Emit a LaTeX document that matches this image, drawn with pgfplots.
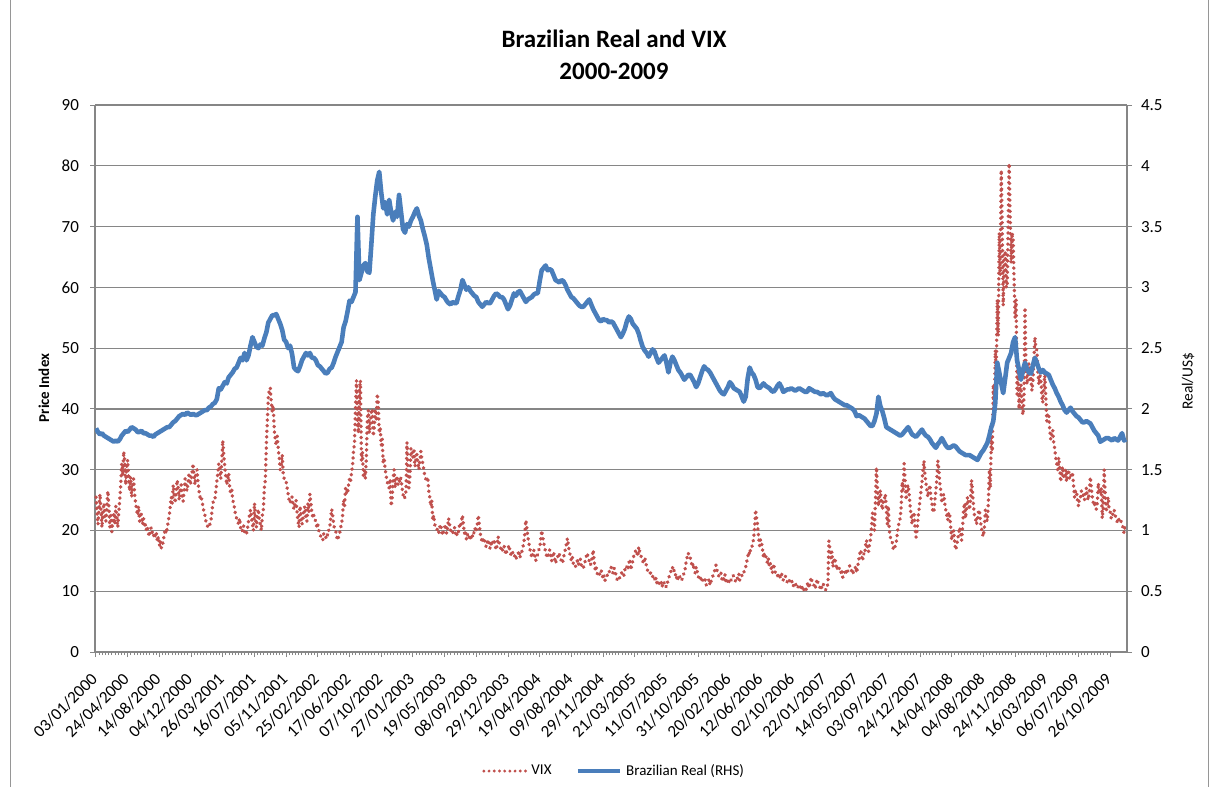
\documentclass[border=0pt]{standalone}
\usepackage{fontspec}
\setmainfont{Carlito}
\usepackage{pgfplots}
\usepackage{pgfplotstable}
\pgfplotsset{compat=1.18}
\definecolor{vixred}{RGB}{192,80,77}
\definecolor{brlblue}{RGB}{74,126,187}
\definecolor{gridgray}{RGB}{134,134,134}
\definecolor{axgray}{RGB}{134,134,134}
\definecolor{framegray}{RGB}{150,150,150}

% VIX, two readings per week
\pgfplotstableread[row sep=\\]{v\\
25.5\\23\\21\\23.5\\26\\23.5\\20.5\\23\\24.5\\22\\21.5\\24\\26.5\\24\\20.5\\22.5\\19.8\\21.5\\23\\21\\
24\\22\\20.5\\23\\25\\27.5\\31\\29\\33\\31.5\\27.5\\30.5\\31.6\\28.5\\26.5\\28.8\\25.5\\27\\28.5\\26\\
24.5\\23.4\\22.5\\24\\21.5\\23\\22.5\\21\\22\\20.5\\21\\20\\20.5\\19.5\\19\\20.2\\20.5\\19.5\\19\\19.6\\
18.9\\19.5\\18.2\\19\\17.5\\18.3\\17.1\\17.6\\18.2\\19.5\\20.2\\19.5\\20.5\\21.5\\22.5\\24\\25.5\\24.5\\27.5\\26\\
24.5\\26.5\\28.3\\27\\25\\26.5\\27.5\\25.5\\24.8\\26.5\\28.5\\27\\26.5\\28\\29.5\\27.5\\28\\29.5\\31\\29\\
27.5\\29.5\\30\\28\\26.5\\25.5\\25.8\\24.8\\24\\23\\22.5\\21.5\\21\\20.5\\20.5\\21\\21.5\\23\\24.5\\25\\
25\\26.5\\28\\29.5\\31\\30\\28.5\\31.5\\34.8\\32.5\\30.5\\29\\27.5\\28.5\\29.4\\27\\26\\27\\25\\24.5\\
23.5\\22.5\\22\\21.5\\21\\22\\20.5\\19.8\\20\\20.8\\19.8\\19.3\\19.5\\20.3\\21.5\\22.5\\23.4\\22\\21\\20\\
24.5\\22\\20.5\\22.5\\23.5\\21.5\\21\\20\\22.5\\23.5\\27\\28.3\\34\\38\\42\\43.1\\43.5\\41\\39.5\\40.5\\
36.5\\35\\34\\35.5\\33.5\\32\\30\\31\\32.5\\29.5\\28.5\\28\\28\\27\\26\\25\\24.5\\25.5\\25.5\\24\\
23.5\\24.5\\25\\23\\21.5\\20.5\\24\\22.5\\21\\22\\23.5\\24\\22\\21.5\\24.5\\23\\26\\24.5\\23\\22\\
22.5\\21.8\\21.5\\20.5\\21\\20\\19.6\\19\\18.5\\18.4\\19.5\\19\\18.8\\19.5\\19.2\\20\\20.5\\22\\23.5\\22.5\\
21\\20.2\\20\\19\\18.4\\19\\19.5\\20.5\\21\\22.5\\25\\24\\27\\26\\26\\27.5\\28.5\\28\\29.5\\30.5\\
33\\34.4\\40\\44.7\\38\\36\\43\\44.7\\31.5\\33\\29\\30\\28.5\\32\\38.5\\39.8\\36\\37.5\\39.5\\40\\
35.5\\37\\40\\38\\42.5\\41\\36\\37\\34\\35\\31\\32\\30\\29\\28\\27.5\\27\\28.5\\24\\25\\
28.5\\30\\27\\28\\29\\27.5\\27.5\\28.8\\28.5\\27\\26\\25.2\\25.5\\26.5\\34.5\\30\\27\\29\\33.5\\32\\
32\\33.5\\30.5\\31.5\\32.5\\31\\30\\31.5\\33\\31.8\\31\\30\\29\\28.5\\28\\28.8\\26.5\\25.5\\24\\25\\
21.7\\22.5\\21\\20.5\\20.5\\19.8\\19.5\\20.5\\21\\20\\19.2\\19.8\\20.5\\21\\19.5\\20.5\\22\\21\\20\\19.5\\
19.5\\20.2\\20.5\\19.5\\19\\20\\19.8\\20.8\\20.5\\21.5\\22.5\\21\\19.5\\20\\18.5\\19.2\\19.5\\18.8\\18.4\\19.3\\
19\\19.8\\19.5\\20.5\\20\\21\\22.5\\21\\19.5\\18.7\\18\\18.8\\18.5\\17.8\\17.3\\18\\18.5\\17.6\\17\\17.8\\
17.5\\18.3\\18.5\\17.5\\16.8\\17.5\\19\\18\\17.5\\16.8\\16.5\\17.2\\17.5\\16.6\\16\\16.8\\17\\17.6\\16.5\\16\\
15.8\\16.5\\16.3\\15.6\\15.2\\15.9\\16\\16.7\\15.5\\16.2\\16.5\\17.2\\18\\19.5\\21.7\\20.5\\19\\18\\17\\16.3\\
15.5\\16.2\\16.8\\16\\15\\15.8\\16\\16.8\\17\\18.5\\20\\19\\18\\17.2\\16.5\\15.8\\15.5\\16.2\\16.8\\16\\
15\\15.7\\16.5\\15.5\\14.6\\15.2\\15.5\\16.3\\16\\15.3\\15\\14.6\\15.5\\16.2\\17\\17.8\\18.7\\17.5\\16.5\\15.8\\
15\\15.6\\14.5\\14\\14\\14.6\\15\\14.3\\14.8\\15.3\\14.2\\13.8\\13.8\\14.4\\15\\15.7\\16.3\\15.5\\15\\14.3\\
14.6\\15.5\\16.8\\15\\13.5\\14\\13\\12.5\\12.5\\13.2\\13.5\\12.8\\12\\12.6\\11.8\\12.3\\12.5\\13.1\\13\\13.7\\
14\\13.4\\13\\13.8\\13.5\\12.7\\12\\11.7\\11.8\\12.4\\12.5\\13.2\\13\\12.6\\13.5\\14.2\\14\\13.5\\14.6\\15.3\\
13.5\\14.3\\15\\15.8\\16\\16.8\\16.5\\15.7\\17.3\\16.5\\16\\15.3\\15\\14.5\\15.6\\14.8\\14\\13.4\\13.5\\13\\
13\\12.4\\12.5\\11.8\\12\\12.5\\11.3\\11.8\\11.5\\11\\11\\11.6\\10.7\\11.2\\11.5\\10.9\\10.7\\11.4\\12\\12.6\\
13\\13.6\\14\\13.2\\13.5\\12.8\\12\\12.6\\11.8\\12.2\\12.5\\11.9\\12\\12.7\\13\\13.8\\15\\15.7\\16.3\\15.5\\
15.5\\14.8\\14\\14.6\\13.5\\13\\14\\13.3\\12.5\\12\\11.8\\12.4\\12\\11.6\\11.5\\11.9\\11\\11.4\\11.5\\12\\
11\\11.6\\12\\12.6\\13\\13.6\\14.3\\13.5\\13\\12.4\\12.5\\13\\12\\11.6\\12.3\\12.8\\11.5\\11.9\\11.3\\11.7\\
11.3\\11.8\\12\\12.6\\12.5\\12\\11.5\\11.9\\12.3\\12.9\\11.8\\12.2\\12.5\\13.1\\13\\13.7\\14\\14.8\\15.6\\16.5\\
16\\17\\17\\18\\18.5\\20.5\\23.4\\22\\21\\19\\17.5\\18.5\\18\\16.8\\15.5\\16.3\\16\\15.2\\14.6\\15.3\\
14\\14.6\\13.5\\13\\14.5\\13.8\\13\\12.5\\12.5\\13\\12\\12.5\\13\\12.4\\11.8\\12.3\\12.5\\11.9\\11.5\\12\\
11.8\\11.3\\11.3\\11.7\\11\\10.6\\10.8\\11.3\\11.2\\10.7\\10.5\\10.9\\10.2\\10.6\\10\\10.4\\10.7\\10.3\\11\\11.5\\
10.5\\11.2\\12.3\\11.6\\11.5\\10.9\\10.4\\11\\12\\11.4\\11\\10.6\\10.2\\10.8\\11.3\\10.9\\10.5\\10.2\\10.7\\11.2\\
18.3\\17\\15.5\\16.5\\14\\14.8\\15.5\\14.5\\13.5\\14.2\\14\\13.4\\13\\13.6\\12.3\\12.9\\13\\13.6\\12.8\\13.3\\
13.5\\14.2\\14\\13.3\\12.8\\13.4\\13.5\\14.1\\13\\14\\15\\16\\16.8\\15.8\\15\\16.2\\16\\17.5\\18.4\\17.2\\
16.5\\17.8\\18.5\\20.5\\22.9\\21.5\\20\\25\\30.4\\27\\24\\25.5\\26.6\\24.5\\23.4\\25\\25\\26\\23.5\\21\\
24\\20\\19\\18.2\\18\\17\\16.8\\17.5\\18\\19.5\\20.5\\21.5\\22\\24\\28\\26.6\\31\\28\\25\\27\\
27.5\\26\\24\\22.5\\21\\22.5\\23\\20.5\\18.9\\20\\22\\23.5\\25\\26.5\\28\\30\\31.5\\29\\27.8\\26.5\\
25.5\\26.8\\27.5\\25.5\\24.5\\23\\23\\25\\26.6\\28.5\\31.5\\30\\27.8\\26.5\\24.5\\25.5\\26\\24.5\\23.4\\22.5\\
21.7\\23\\22.5\\20.5\\18.4\\19.5\\20\\18\\16.8\\17.5\\18.5\\19.5\\20.5\\19.5\\18.4\\20.5\\23.4\\24.5\\22\\23.8\\
25.5\\24.2\\23.4\\25\\28.3\\26.5\\24\\22.5\\22\\21\\21.7\\23\\23.4\\21.5\\20.5\\19.5\\19\\20.5\\23.4\\22\\
21.5\\24.5\\30\\27\\35.4\\33\\44\\40\\49.7\\46\\58\\52\\69\\62\\79.3\\70\\57\\64\\66\\60\\
60\\70\\80.4\\72\\64\\69\\68\\61\\55\\58\\42\\46\\40\\44\\44\\40\\39\\42\\56.7\\47\\
44\\46\\47.5\\44.5\\45\\43\\44.5\\48\\51.8\\50\\49.7\\46\\44\\45.5\\45\\42\\41\\43.5\\46\\42\\
38\\39.3\\39\\36.5\\35\\36.5\\36.5\\34.4\\33.5\\32\\31\\30\\32\\30.5\\28\\29.5\\30.5\\28.5\\29\\30\\
28\\29.5\\30\\28.5\\28.5\\29.5\\29.5\\27.5\\25.5\\26.6\\26.5\\25\\24\\25.5\\25.5\\26.5\\26.5\\25.5\\25\\26\\
27\\25.5\\25\\26.5\\28.8\\27\\25.5\\24.5\\24\\24.8\\23.5\\24.5\\27.8\\26.5\\26\\27\\22\\23.5\\30\\26\\
23\\24.5\\25.5\\23.5\\23\\22\\22\\23\\23.4\\22.5\\22\\21.5\\21.2\\22\\22\\21.5\\21\\20.5\\19.6\\20.5\\21\\
}\vix

% Brazilian Real per US$, weekly
\pgfplotstableread[row sep=\\]{r\\
1.84\\1.81\\1.79\\1.80\\1.78\\1.77\\1.76\\1.75\\1.74\\1.73\\
1.74\\1.73\\1.75\\1.78\\1.80\\1.82\\1.81\\1.83\\1.85\\1.84\\
1.83\\1.81\\1.81\\1.82\\1.80\\1.80\\1.79\\1.78\\1.78\\1.77\\
1.79\\1.80\\1.81\\1.82\\1.83\\1.84\\1.85\\1.85\\1.87\\1.89\\
1.90\\1.92\\1.94\\1.95\\1.96\\1.95\\1.97\\1.96\\1.95\\1.96\\
1.95\\1.95\\1.96\\1.97\\1.98\\1.99\\1.99\\2.01\\2.02\\2.04\\
2.05\\2.08\\2.17\\2.16\\2.19\\2.22\\2.21\\2.26\\2.28\\2.30\\
2.33\\2.34\\2.38\\2.42\\2.40\\2.46\\2.40\\2.44\\2.52\\2.59\\
2.55\\2.51\\2.50\\2.53\\2.52\\2.58\\2.63\\2.71\\2.74\\2.77\\
2.77\\2.78\\2.74\\2.70\\2.65\\2.57\\2.55\\2.50\\2.52\\2.45\\
2.34\\2.32\\2.31\\2.35\\2.40\\2.43\\2.46\\2.44\\2.46\\2.42\\
2.42\\2.40\\2.36\\2.35\\2.33\\2.31\\2.29\\2.30\\2.33\\2.34\\
2.38\\2.43\\2.47\\2.51\\2.55\\2.67\\2.72\\2.80\\2.89\\2.88\\
2.92\\2.96\\3.58\\3.06\\3.12\\3.18\\3.20\\3.13\\3.12\\3.35\\
3.60\\3.75\\3.88\\3.95\\3.78\\3.65\\3.70\\3.60\\3.72\\3.62\\
3.55\\3.62\\3.58\\3.76\\3.62\\3.48\\3.45\\3.52\\3.50\\3.55\\
3.58\\3.62\\3.65\\3.59\\3.55\\3.48\\3.42\\3.35\\3.24\\3.15\\
3.06\\2.98\\2.90\\2.97\\2.95\\2.93\\2.92\\2.89\\2.87\\2.86\\
2.88\\2.87\\2.87\\2.93\\2.98\\3.06\\3.02\\2.98\\3.00\\2.97\\
2.95\\2.93\\2.92\\2.88\\2.86\\2.84\\2.86\\2.88\\2.87\\2.87\\
2.90\\2.93\\2.95\\2.94\\2.92\\2.92\\2.90\\2.86\\2.82\\2.85\\
2.90\\2.95\\2.93\\2.96\\2.97\\2.94\\2.91\\2.88\\2.90\\2.91\\
2.92\\2.94\\2.95\\2.95\\3.05\\3.14\\3.16\\3.18\\3.14\\3.15\\
3.14\\3.10\\3.06\\3.05\\3.04\\3.06\\3.05\\3.02\\2.98\\2.95\\
2.92\\2.91\\2.89\\2.87\\2.85\\2.84\\2.84\\2.86\\2.88\\2.90\\
2.86\\2.82\\2.79\\2.76\\2.73\\2.72\\2.74\\2.73\\2.73\\2.71\\
2.72\\2.71\\2.68\\2.65\\2.62\\2.59\\2.62\\2.66\\2.72\\2.76\\
2.74\\2.70\\2.68\\2.66\\2.62\\2.56\\2.51\\2.48\\2.46\\2.43\\
2.46\\2.49\\2.47\\2.42\\2.38\\2.40\\2.42\\2.44\\2.38\\2.30\\
2.38\\2.43\\2.40\\2.36\\2.32\\2.30\\2.27\\2.24\\2.26\\2.28\\
2.28\\2.25\\2.22\\2.18\\2.21\\2.26\\2.31\\2.35\\2.33\\2.32\\
2.30\\2.27\\2.24\\2.21\\2.18\\2.15\\2.13\\2.12\\2.15\\2.18\\
2.22\\2.20\\2.17\\2.16\\2.15\\2.14\\2.10\\2.06\\2.10\\2.25\\
2.34\\2.30\\2.28\\2.24\\2.18\\2.17\\2.19\\2.21\\2.19\\2.18\\
2.17\\2.15\\2.14\\2.16\\2.19\\2.21\\2.18\\2.14\\2.15\\2.16\\
2.16\\2.17\\2.16\\2.15\\2.16\\2.17\\2.16\\2.15\\2.14\\2.14\\
2.17\\2.16\\2.15\\2.14\\2.14\\2.13\\2.12\\2.13\\2.12\\2.11\\
2.12\\2.13\\2.10\\2.08\\2.07\\2.06\\2.05\\2.04\\2.03\\2.03\\
2.02\\2.01\\2.00\\1.98\\1.94\\1.95\\1.94\\1.93\\1.92\\1.90\\
1.88\\1.86\\1.86\\1.90\\1.96\\2.10\\2.02\\1.98\\1.92\\1.85\\
1.84\\1.83\\1.82\\1.81\\1.80\\1.79\\1.78\\1.79\\1.81\\1.83\\
1.85\\1.82\\1.79\\1.78\\1.77\\1.79\\1.81\\1.83\\1.80\\1.78\\
1.77\\1.75\\1.72\\1.70\\1.68\\1.71\\1.73\\1.76\\1.73\\1.70\\
1.68\\1.68\\1.69\\1.70\\1.69\\1.67\\1.65\\1.64\\1.63\\1.62\\
1.62\\1.62\\1.61\\1.60\\1.59\\1.58\\1.61\\1.64\\1.66\\1.69\\
1.72\\1.78\\1.85\\1.90\\2.05\\2.38\\2.30\\2.21\\2.13\\2.25\\
2.38\\2.42\\2.46\\2.55\\2.59\\2.40\\2.32\\2.24\\2.32\\2.38\\
2.33\\2.30\\2.29\\2.36\\2.42\\2.38\\2.33\\2.30\\2.32\\2.30\\
2.29\\2.28\\2.24\\2.20\\2.17\\2.13\\2.10\\2.06\\2.03\\1.99\\
1.97\\1.99\\2.01\\1.98\\1.96\\1.94\\1.93\\1.91\\1.89\\1.89\\
1.90\\1.89\\1.88\\1.85\\1.82\\1.80\\1.78\\1.73\\1.74\\1.75\\
1.76\\1.76\\1.75\\1.74\\1.76\\1.75\\1.74\\1.77\\1.80\\1.74\\1.75\\
}\brl

\begin{document}
\begin{tikzpicture}
\path[use as bounding box] (0pt,0pt) rectangle (610pt,-393.5pt);
\draw[framegray, line width=0.5pt] (5pt,0pt) -- (5pt,-393.5pt);
\draw[framegray, line width=0.5pt] (604pt,0pt) -- (604pt,-393.5pt);

\node[font=\bfseries\fontsize{12.5}{15}\selectfont] at (307pt,-19.5pt) {Brazilian Real and VIX};
\node[font=\bfseries\fontsize{12.5}{15}\selectfont] at (307pt,-35.5pt) {2000-2009};
\node[rotate=90, font=\bfseries\fontsize{7.5}{9}\selectfont] at (22pt,-194pt) {Price Index};
\node[rotate=90, font=\fontsize{7.7}{9}\selectfont] at (594pt,-190.5pt) {Real/US\$};

\begin{axis}[
  at={(47.5pt,-326pt)}, anchor=south west,
  width=516pt, height=273.5pt, scale only axis,
  xmin=-0.5, xmax=520.5, ymin=0, ymax=90,
  axis x line*=bottom, axis y line*=left,
  axis line style={axgray, line width=0.7pt},
  ytick={0,10,...,90},
  ymajorgrids, grid style={gridgray, line width=0.6pt},
  xtick={0,16,...,512},
  xticklabels={03/01/2000,24/04/2000,14/08/2000,04/12/2000,26/03/2001,16/07/2001,05/11/2001,25/02/2002,17/06/2002,07/10/2002,27/01/2003,19/05/2003,08/09/2003,29/12/2003,19/04/2004,09/08/2004,29/11/2004,21/03/2005,11/07/2005,31/10/2005,20/02/2006,12/06/2006,02/10/2006,22/01/2007,14/05/2007,03/09/2007,24/12/2007,14/04/2008,04/08/2008,24/11/2008,16/03/2009,06/07/2009,26/10/2009},
  minor x tick num=9,
  tick align=outside,
  major tick length=2.5pt, minor tick length=1.5pt,
  every tick/.append style={axgray, line width=0.5pt},
  ticklabel style={font=\fontsize{8.5}{10}\selectfont},
  /pgf/number format/assume math mode=true,
  yticklabel style={xshift=-2pt},
  xticklabel style={yshift=-9pt, rotate=45, anchor=east, inner sep=1pt},
  clip=false,
]
\addplot[vixred, line width=1.75pt, line cap=round, line join=round, dash pattern=on 0.2pt off 2.6pt] table[x expr=\coordindex/2, y=v]{\vix};
\end{axis}

\begin{axis}[
  at={(47.5pt,-326pt)}, anchor=south west,
  width=516pt, height=273.5pt, scale only axis,
  xmin=-0.5, xmax=520.5, ymin=0, ymax=4.5,
  axis x line=none, axis y line*=right,
  axis line style={axgray, line width=0.7pt},
  ytick={0,0.5,1,1.5,2,2.5,3,3.5,4,4.5},
  yticklabels={0,0.5,1,1.5,2,2.5,3,3.5,4,4.5},
  tick align=outside,
  major tick length=2.5pt,
  every tick/.append style={axgray, line width=0.5pt},
  ticklabel style={font=\fontsize{8.5}{10}\selectfont},
  /pgf/number format/assume math mode=true,
  yticklabel style={xshift=1pt},
  legend style={draw=none, fill=none, legend columns=2, at={(0.504,-0.2176)}, anchor=center,
    font=\fontsize{7.5}{9}\selectfont,
    /tikz/every even column/.append style={column sep=10pt}},
  legend image code/.code={\draw[#1] (0pt,0pt) -- (21pt,0pt);},
]
\addlegendimage{vixred, line width=1.6pt, line cap=round, dash pattern=on 0pt off 2.6pt}
\addplot[brlblue, line width=2.3pt, line join=round] table[x expr=\coordindex, y=r]{\brl};
\legend{VIX, Brazilian Real (RHS)}
\end{axis}
\end{tikzpicture}
\end{document}
